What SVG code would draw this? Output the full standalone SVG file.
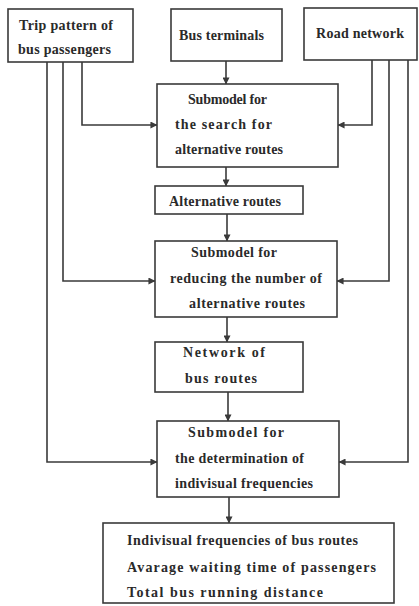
<svg xmlns="http://www.w3.org/2000/svg" width="419" height="606" viewBox="0 0 419 606">
<style>
.box{fill:#fff;stroke:#3a3a3a;stroke-width:1.6}
.t{font-family:"Liberation Serif","Times New Roman",serif;font-weight:bold;font-size:14px;fill:#2a2a2a}
.c{fill:none;stroke:#3a3a3a;stroke-width:1.6}
</style>
<defs>
<marker id="ah" viewBox="0 0 8 8" refX="7.5" refY="4" markerWidth="7" markerHeight="7" markerUnits="userSpaceOnUse" orient="auto">
<path d="M0,0 L8,4 L0,8 Z" fill="#3a3a3a"/>
</marker>
</defs>
<rect width="419" height="606" fill="#fff"/>
<g id="connectors">
<path class="c" d="M226,61 V84" marker-end="url(#ah)"/>
<path class="c" d="M226,167 V186" marker-end="url(#ah)"/>
<path class="c" d="M227,214 V241" marker-end="url(#ah)"/>
<path class="c" d="M227,317 V342" marker-end="url(#ah)"/>
<path class="c" d="M228,392 V421" marker-end="url(#ah)"/>
<path class="c" d="M229,497 V523" marker-end="url(#ah)"/>
<path class="c" d="M82,62 V125 H157" marker-end="url(#ah)"/>
<path class="c" d="M63,62 V281 H155" marker-end="url(#ah)"/>
<path class="c" d="M47,62 V462 H157" marker-end="url(#ah)"/>
<path class="c" d="M372,60 V125 H338" marker-end="url(#ah)"/>
<path class="c" d="M389,60 V281 H337" marker-end="url(#ah)"/>
<path class="c" d="M408,60 V462 H339" marker-end="url(#ah)"/>
</g>
<g id="trip">
<rect class="box" x="8" y="9" width="125" height="53"/>
<text class="t" x="19" y="30" textLength="94" lengthAdjust="spacing">Trip pattern of</text>
<text class="t" x="18" y="54" textLength="93" lengthAdjust="spacing">bus passengers</text>
</g>
<g id="terminals">
<rect class="box" x="171" y="9" width="111" height="52"/>
<text class="t" x="179" y="40" textLength="85" lengthAdjust="spacing">Bus terminals</text>
</g>
<g id="road">
<rect class="box" x="304" y="8" width="113" height="52"/>
<text class="t" x="316" y="38" textLength="88" lengthAdjust="spacing">Road network</text>
</g>
<g id="sub1">
<rect class="box" x="157" y="84" width="181" height="83"/>
<text class="t" x="188" y="104" textLength="79" lengthAdjust="spacing">Submodel for</text>
<text class="t" x="175" y="129" textLength="97" lengthAdjust="spacing">the search for</text>
<text class="t" x="175" y="154" textLength="108" lengthAdjust="spacing">alternative routes</text>
</g>
<g id="alt">
<rect class="box" x="155" y="186" width="148" height="28"/>
<text class="t" x="169" y="206" textLength="112" lengthAdjust="spacing">Alternative routes</text>
</g>
<g id="sub2">
<rect class="box" x="155" y="241" width="182" height="76"/>
<text class="t" x="191" y="257" textLength="86" lengthAdjust="spacing">Submodel for</text>
<text class="t" x="170" y="283" textLength="152" lengthAdjust="spacing">reducing the number of</text>
<text class="t" x="189" y="308" textLength="116" lengthAdjust="spacing">alternative routes</text>
</g>
<g id="network">
<rect class="box" x="155" y="342" width="148" height="50"/>
<text class="t" x="183" y="357" textLength="82" lengthAdjust="spacing">Network of</text>
<text class="t" x="185" y="383" textLength="72" lengthAdjust="spacing">bus routes</text>
</g>
<g id="sub3">
<rect class="box" x="157" y="421" width="182" height="76"/>
<text class="t" x="188" y="437" textLength="96" lengthAdjust="spacing">Submodel for</text>
<text class="t" x="175" y="463" textLength="129" lengthAdjust="spacing">the determination of</text>
<text class="t" x="175" y="488" textLength="138" lengthAdjust="spacing">indivisual frequencies</text>
</g>
<g id="result">
<rect class="box" x="103" y="523" width="291" height="80"/>
<text class="t" x="127" y="545" textLength="231" lengthAdjust="spacing">Indivisual frequencies of bus routes</text>
<text class="t" x="127" y="572" textLength="249" lengthAdjust="spacing">Avarage waiting time of passengers</text>
<text class="t" x="127" y="597" textLength="196" lengthAdjust="spacing">Total bus running distance</text>
</g>
</svg>
